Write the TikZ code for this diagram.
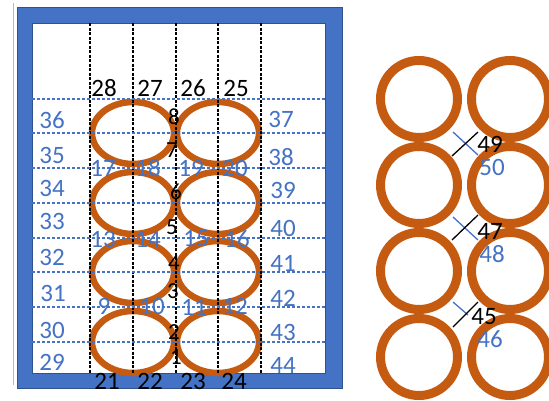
\documentclass[tikz,border=0pt]{standalone}
\usepackage{fontspec}
\setmainfont{Carlito}
\definecolor{fblue}{HTML}{4472C4}
\definecolor{fdark}{HTML}{2F528F}
\definecolor{ring}{HTML}{C55A11}
\definecolor{lblue}{HTML}{4472C4}
\tikzset{
  big/.style={font=\fontsize{25}{25}\selectfont, inner sep=0pt},
  blk/.style={big, text=black},
  blu/.style={big, text=lblue},
  mid/.style={font=\fontsize{23}{23}\selectfont, inner sep=0pt, text=black},
  vdash/.style={black, line width=1.2pt, dash pattern=on 3pt off 1.5pt},
  hdash/.style={lblue, line width=1.2pt, dash pattern=on 3pt off 2pt},
  oval/.style={ring, line width=6.5pt},
  ringc/.style={ring, line width=9pt},
  xblk/.style={black, line width=1.3pt},
  xblu/.style={lblue, line width=1.3pt}
}
\begin{document}
\begin{tikzpicture}[x=1pt,y=-1pt]
\useasboundingbox (0,0) rectangle (549,400);
\clip (0,0) rectangle (549,400);
\fill[white] (0,0) rectangle (549,400);
% shadow line left of frame
\draw[gray!55, line width=1pt] (13.5,3) -- (13.5,385);
% frame
\fill[fblue, even odd rule] (17,7) rectangle (342,388) (32,23) rectangle (325,373);
\draw[fdark, line width=1pt] (17,7) rectangle (342,388);
\draw[fdark, line width=1pt] (32,23) rectangle (325,373);
% ellipses
\foreach \cx in {133,218}
  \foreach \cy in {133,203,272,342}
    \draw[oval] (\cx,\cy) ellipse [x radius=41, y radius=31];
% grid lines
\foreach \gx [count=\i] in {90,133,176,218,261} {
  \coordinate (vt\i) at (\gx,23);
  \coordinate (vb\i) at (\gx,373);
  \draw[vdash] (vt\i) -- (vb\i);
}
\foreach \gy [count=\i] in {99,133,168,203,238,272,307,342} {
  \coordinate (hl\i) at (32,\gy);
  \coordinate (hr\i) at (325,\gy);
  \draw[hdash] (hl\i) -- (hr\i);
}
% top and bottom labels
\foreach \t/\x/\y in {28/104/88, 27/150/88, 26/193/88, 25/236/88,
                      21/107/381, 22/150/381, 23/193/381, 24/234/381}
  \node[blk] (n\t) at (\x,\y) {\t};
% side labels
\foreach \t/\x/\y in {36/52/120, 35/52/155, 34/52/188, 33/52/221, 32/52/257, 31/53/293, 30/52/330, 29/52/362,
                      37/281/119, 38/281/157, 39/283/190, 40/283/228, 41/283/263, 42/283/298, 43/283/332, 44/283/365}
  \node[blu] (n\t) at (\x,\y) {\t};
% centre digits
\foreach \t/\x/\y in {8/174/117, 7/172/150, 6/176/192, 5/172/227, 4/174/263, 3/173/291, 2/174/332, 1/176/357}
  \node[mid] (n\t) at (\x,\y) {\t};
% contact labels
\foreach \t/\x/\y in {17/103/168, 18/148/168, 19/191/168, 20/235/168,
                      13/103/239, 14/148/239, 15/196/239, 16/237/239,
                      9/104/306, 10/152/306, 11/194/307, 12/235/306}
  \node[blu] (n\t) at (\x,\y) {\t};
% right panel rings
\foreach \cx in {419,510}
  \foreach \cy in {99,185,271,357}
    \draw[ringc] (\cx,\cy) circle [radius=38.5];
% crosses
\coordinate (a1) at (453,132); \coordinate (a2) at (478,155);
\coordinate (b1) at (478,132); \coordinate (b2) at (452,156);
\coordinate (c1) at (453,217); \coordinate (c2) at (478,240);
\coordinate (d1) at (478,215); \coordinate (d2) at (452,240);
\coordinate (e1) at (453,302); \coordinate (e2) at (468,315);
\coordinate (f1) at (478,302); \coordinate (f2) at (453,327);
\draw[xblu] (a1) -- (a2);
\draw[xblk] (b1) -- (b2);
\draw[xblu] (c1) -- (c2);
\draw[xblk] (d1) -- (d2);
\draw[xblu] (e1) -- (e2);
\draw[xblk] (f1) -- (f2);
\node[blk] (n49) at (490,144) {49};
\node[blu] (n50) at (492,167) {50};
\node[blk] (n47) at (490,231) {47};
\node[blu] (n48) at (492,254) {48};
\node[blk] (n45) at (484,317) {45};
\node[blu] (n46) at (490,339) {46};
\end{tikzpicture}
\end{document}
